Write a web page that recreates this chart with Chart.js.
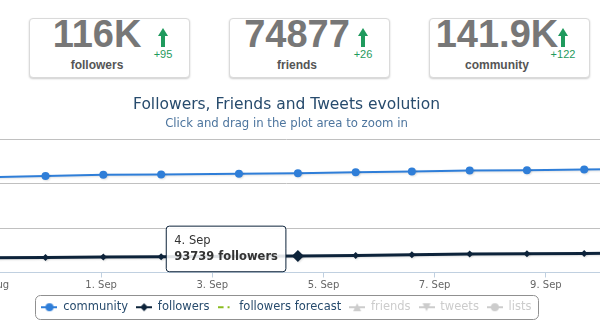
<!DOCTYPE html>
<html>
<head>
<meta charset="utf-8">
<title>Followers, Friends and Tweets evolution</title>
<script src="https://cdn.jsdelivr.net/npm/chart.js@4.4.0/dist/chart.umd.min.js"></script>
<style>
  html, body { margin: 0; padding: 0; }
  body { position: relative; width: 600px; height: 331px; overflow: hidden; background: #fff; font-family: "Liberation Sans", Arial, sans-serif; }
  .stat { position: absolute; top: 18px; width: 159px; height: 58px; border: 1px solid #dadada; border-radius: 4px; box-shadow: 0 1px 2px rgba(0,0,0,0.2); background: #fff; }
  .stat .num { position: absolute; left: 0; top: -3px; width: 134px; text-align: center; font-weight: bold; font-size: 38px; line-height: 37px; color: #777; white-space: nowrap; }
  .stat .name { position: absolute; left: 0; top: 40px; width: 134px; text-align: center; font-weight: bold; font-size: 12px; line-height: 12px; color: #555; }
  .stat .up { position: absolute; left: 128px; top: 9px; width: 0; height: 0; border-left: 5px solid transparent; border-right: 5px solid transparent; border-bottom: 8px solid #1f9a5d; }
  .stat .up::after { content: ""; position: absolute; left: -2px; top: 8px; width: 4px; height: 11px; background: #1f9a5d; }
  .stat .delta { position: absolute; left: 113px; top: 30px; width: 40px; text-align: center; font-size: 11px; line-height: 11px; color: #1f9a5d; }
  #wrap { position: absolute; left: -40px; top: 86px; width: 653px; height: 245px; }
</style>
</head>
<body>
<div id="stats"></div>
<div id="wrap"><canvas id="evolution"></canvas></div>
<script>
// Summary boxes
const statNames = ['followers', 'friends', 'community'];
const statValues = ['116K', '74877', '141.9K'];
const statDeltas = ['+95', '+26', '+122'];
const statLeft = [29, 229, 429];

// Time axis: days counted from 31 Aug 00:00
const days = [-1.04, 0.0, 1.04, 2.08, 3.48, 4.54, 5.58, 6.59, 7.63, 8.66, 9.69, 10.73];
const pointDates = ['29. Aug', '31. Aug', '1. Sep', '2. Sep', '3. Sep', '4. Sep', '5. Sep', '6. Sep', '7. Sep', '8. Sep', '9. Sep', '10. Sep'];
const community = [138043, 138636, 139091, 139227, 139545, 139864, 140318, 140591, 141045, 141227, 141500, 141727];
const followers = [93341, 93409, 93477, 93568, 93659, 93739, 93864, 94023, 94182, 94250, 94318, 94410];
const forecast = [];
const friends = [];
const tweets = [];
const lists = [];

const tickDays = [-1, 1, 3, 5, 7, 9, 11];
const tickLabels = ['30. Aug', '1. Sep', '3. Sep', '5. Sep', '7. Sep', '9. Sep', '11. Sep'];

// visible time window (the plot runs past both edges of the page)
const xMin = -1.43, xMax = 10.10;
const hoverIndex = 5;

const statsEl = document.getElementById('stats');
statNames.forEach((name, i) => {
  const box = document.createElement('div');
  box.className = 'stat';
  box.style.left = statLeft[i] + 'px';
  box.innerHTML = '<div class="num">' + statValues[i] + '</div>' +
    '<div class="name">' + name + '</div>' +
    '<div class="up"></div>' +
    '<div class="delta">' + statDeltas[i] + '</div>';
  statsEl.appendChild(box);
});

const font = 'DejaVu Sans';

// small legend symbol: a line with the series marker in the middle
function symbol(color, marker, dash) {
  const c = document.createElement('canvas');
  c.width = 16; c.height = 12;
  const g = c.getContext('2d');
  g.strokeStyle = color; g.fillStyle = color; g.lineWidth = 2;
  if (dash) g.setLineDash(dash);
  g.beginPath(); g.moveTo(0, 6); g.lineTo(16, 6); g.stroke();
  g.setLineDash([]);
  g.beginPath();
  if (marker === 'circle') {
    g.arc(8, 6, 4, 0, Math.PI * 2);
  } else if (marker === 'diamond') {
    g.moveTo(8, 2); g.lineTo(12, 6); g.lineTo(8, 10); g.lineTo(4, 6); g.closePath();
  } else if (marker === 'triangle') {
    g.moveTo(8, 2); g.lineTo(12, 10); g.lineTo(4, 10); g.closePath();
  } else if (marker === 'triangle-down') {
    g.moveTo(4, 2); g.lineTo(12, 2); g.lineTo(8, 10); g.closePath();
  }
  if (marker) g.fill();
  return c;
}

const toPoints = arr => arr.map((v, i) => ({ x: days[i], y: v }));

const legendBorder = {
  id: 'legendBorder',
  afterDraw(chart) {
    const lg = chart.legend;
    if (!lg || !lg.legendHitBoxes.length) return;
    const boxes = lg.legendHitBoxes;
    const left = boxes[0].left - 6;
    const right = boxes[boxes.length - 1].left + boxes[boxes.length - 1].width + 7;
    const cy = boxes[0].top + boxes[0].height / 2;
    const ctx = chart.ctx;
    ctx.save();
    ctx.strokeStyle = '#909090';
    ctx.lineWidth = 1;
    ctx.beginPath();
    ctx.roundRect(Math.round(left) + 0.5, Math.round(cy - 12) + 0.5, Math.round(right - left), 24, 5);
    ctx.stroke();
    ctx.restore();
  }
};

const lineShadow = {
  id: 'lineShadow',
  beforeDatasetDraw(chart) {
    const ctx = chart.ctx;
    ctx.save();
    ctx.shadowColor = 'rgba(0,0,0,0.12)';
    ctx.shadowOffsetX = 1;
    ctx.shadowOffsetY = 1;
    ctx.shadowBlur = 2;
  },
  afterDatasetDraw(chart) {
    chart.ctx.restore();
  }
};

Chart.Tooltip.positioners.leftOfPoint = function (items) {
  if (!items.length) return false;
  const el = items[0].element;
  return { x: el.x, y: el.y - 7 };
};

const chart = new Chart(document.getElementById('evolution'), {
  type: 'line',
  data: {
    datasets: [
      { label: 'community', data: toPoints(community), yAxisID: 'yCommunity', borderColor: '#2f7ed8', backgroundColor: '#2f7ed8',
        borderWidth: 2, pointStyle: 'circle', pointRadius: 4, pointBorderWidth: 0, marker: 'circle' },
      { label: 'followers', data: toPoints(followers), yAxisID: 'y', borderColor: '#0d233a', backgroundColor: '#0d233a',
        borderWidth: 3, pointStyle: 'rectRot', pointRadius: 3.5, pointBorderWidth: 0,
        pointHoverRadius: 6, pointHoverBorderWidth: 0, pointHoverBackgroundColor: '#0d233a', marker: 'diamond' },
      { label: 'followers forecast', data: toPoints(forecast), yAxisID: 'y', borderColor: '#8bbc21', backgroundColor: '#8bbc21',
        borderWidth: 2, borderDash: [6, 4, 2, 4], pointRadius: 0, dash: [6, 4, 2, 4] },
      { label: 'friends', data: toPoints(friends), yAxisID: 'y', hidden: true, borderColor: '#910000', marker: 'triangle' },
      { label: 'tweets', data: toPoints(tweets), yAxisID: 'y', hidden: true, borderColor: '#1aadce', marker: 'triangle-down' },
      { label: 'lists', data: toPoints(lists), yAxisID: 'y', hidden: true, borderColor: '#492970', marker: 'circle' }
    ]
  },
  options: {
    responsive: true,
    maintainAspectRatio: false,
    animation: false,
    events: [],
    layout: { padding: { left: 0, right: 0, top: 0, bottom: 8 } },
    scales: {
      x: {
        type: 'linear', min: xMin, max: xMax,
        afterBuildTicks: s => { s.ticks = tickDays.filter(v => v >= s.min && v <= s.max).map(v => ({ value: v })); },
        ticks: { callback: v => tickLabels[tickDays.indexOf(v)], color: '#666', font: { family: font, size: 10 },
                 maxRotation: 0, autoSkip: false, padding: 2 },
        grid: { drawOnChartArea: false, drawTicks: true, tickLength: 5, color: '#C0D0E0' },
        border: { color: '#C0D0E0' }
      },
      y: {
        min: 90000, max: 120000,
        ticks: { stepSize: 10000, display: false },
        grid: { color: '#C0C0C0', drawTicks: false },
        border: { display: false }
      },
      yCommunity: { display: false, min: 95000, max: 155000 }
    },
    plugins: {
      title: { display: true, text: 'Followers, Friends and Tweets evolution', color: '#274b6d',
               font: { family: font, size: 15.5, weight: 'normal' }, padding: { top: 10, bottom: 0 } },
      subtitle: { display: true, text: 'Click and drag in the plot area to zoom in', color: '#4d759e',
                  font: { family: font, size: 11.7 }, padding: { top: 2, bottom: 9 } },
      legend: {
        position: 'bottom',
        labels: {
          usePointStyle: true, pointStyleWidth: 16, padding: 8,
          font: { family: font, size: 11.5 }, color: '#274b6d',
          generateLabels: ch => ch.data.datasets.map((ds, i) => {
            const off = !!ds.hidden;
            return {
              text: ds.label, datasetIndex: i, hidden: false, lineWidth: 0,
              fontColor: off ? '#cccccc' : '#274b6d',
              pointStyle: symbol(off ? '#cccccc' : ds.borderColor, ds.marker, ds.dash)
            };
          })
        }
      },
      tooltip: {
        position: 'leftOfPoint', xAlign: 'right', yAlign: 'center',
        caretSize: 0, caretPadding: 12, cornerRadius: 3, padding: 8,
        backgroundColor: 'rgba(255,255,255,0.88)', borderColor: '#0d233a', borderWidth: 1,
        titleColor: '#333', bodyColor: '#333', displayColors: false,
        titleFont: { family: font, size: 11.5, weight: 'normal' }, titleMarginBottom: 2,
        bodyFont: { family: font, size: 11.5, weight: 'bold' },
        callbacks: {
          title: items => pointDates[items[0].dataIndex],
          label: item => item.parsed.y + ' ' + item.dataset.label
        }
      }
    }
  },
  plugins: [legendBorder, lineShadow]
});

// hovered point on 4. Sep with its tooltip
const active = [{ datasetIndex: 1, index: hoverIndex }];
chart.setActiveElements(active);
chart.tooltip.setActiveElements(active, { x: 0, y: 0 });
chart.update();
</script>
</body>
</html>
